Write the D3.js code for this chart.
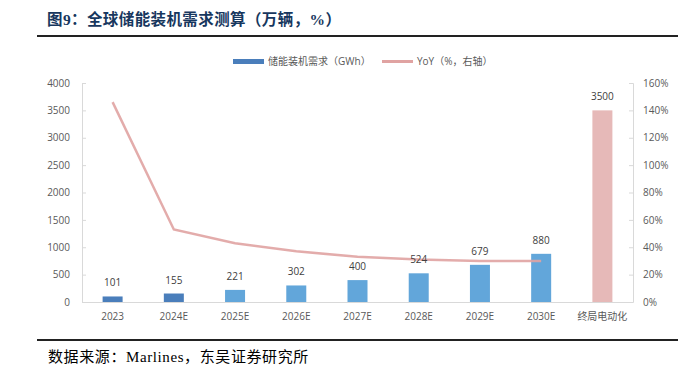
<!DOCTYPE html>
<html>
  <head>
    <meta charset="utf-8">
    <script src="https://d3js.org/d3.v7.min.js"></script>
    <style>
      body { margin: 0; background: #fff; }
      svg text { font-family: "Open Sans", "Noto Sans CJK SC", sans-serif; }
      .tick text { fill: #595959; font-size: 10px; }
      .label { fill: #404040; font-size: 10px; text-anchor: middle; }
      .title { font-family: "Liberation Serif", "Noto Sans CJK SC", serif; font-weight: bold; font-size: 15.5px; letter-spacing: 0.4px; fill: #17375e; }
      .source { font-family: "Liberation Serif", "Noto Sans CJK SC", serif; font-size: 15px; letter-spacing: 0.6px; fill: #000; }
    </style>
    <title>全球储能装机需求测算</title>
  </head>
  <body>
    <svg id="chart" width="696" height="370"></svg>
    <script>
      var categories = ["2023", "2024E", "2025E", "2026E", "2027E", "2028E", "2029E", "2030E", "终局电动化"];
      var demand = [101, 155, 221, 302, 400, 524, 679, 880, 3500];
      var yoy = [146, 53, 43, 37, 33, 31, 30, 30];
      var leftTicks = [0, 500, 1000, 1500, 2000, 2500, 3000, 3500, 4000];
      var rightTicks = [0, 20, 40, 60, 80, 100, 120, 140, 160];
      var barColors = ["#4a7ebb", "#4a7ebb", "#62a6da", "#62a6da", "#62a6da", "#62a6da", "#62a6da", "#62a6da", "#e6b9b8"];

      var svg = d3.select("#chart");
      var pLeft = 82, pRight = 633, pTop = 83, pBottom = 302;

      var x = d3.scaleBand().domain(categories).range([pLeft, pRight]);
      var y = d3.scaleLinear().domain([0, 4000]).range([pBottom, pTop]);
      var y2 = d3.scaleLinear().domain([0, 160]).range([pBottom, pTop]);

      // title and rules
      svg.append("text").attr("class", "title").attr("x", 47).attr("y", 25)
        .text("图9：全球储能装机需求测算（万辆，%）");
      svg.append("rect").attr("x", 37).attr("y", 35).attr("width", 641).attr("height", 2).attr("fill", "#222");
      svg.append("rect").attr("x", 37).attr("y", 339).attr("width", 641).attr("height", 2).attr("fill", "#222");
      svg.append("text").attr("class", "source").attr("x", 48).attr("y", 362)
        .text("数据来源：Marlines，东吴证券研究所");

      // axes
      var gl = svg.append("g").attr("transform", "translate(" + pLeft + ",0)")
        .call(d3.axisRight(y).tickValues(leftTicks).tickSize(4).tickFormat(d3.format("d")));
      gl.selectAll(".tick text").attr("x", -12).attr("text-anchor", "end");
      var gr = svg.append("g").attr("transform", "translate(" + pRight + ",0)")
        .call(d3.axisLeft(y2).tickValues(rightTicks).tickSize(4).tickFormat(function(d){ return d + "%"; }));
      gr.selectAll(".tick text").attr("x", 10).attr("text-anchor", "start");
      svg.selectAll(".domain, .tick line").attr("stroke", "#d9d9d9");
      svg.selectAll(".tick text").attr("font-family", null).attr("font-size", null);

      // x axis baseline and labels
      svg.append("line").attr("x1", pLeft).attr("x2", pRight).attr("y1", pBottom + 0.5).attr("y2", pBottom + 0.5).attr("stroke", "#d9d9d9");
      svg.selectAll(".xlab").data(categories).enter().append("text")
        .attr("class", "label").style("fill", "#595959")
        .attr("x", function(d){ return x(d) + x.bandwidth() / 2; })
        .attr("y", 320).text(function(d){ return d; });

      // bars
      var bw = 20;
      svg.selectAll(".bar").data(demand).enter().append("rect")
        .attr("x", function(d, i){ return x(categories[i]) + x.bandwidth() / 2 - bw / 2; })
        .attr("y", function(d){ return y(d); })
        .attr("width", bw)
        .attr("height", function(d){ return pBottom - y(d); })
        .attr("fill", function(d, i){ return barColors[i]; });

      // line
      var line = d3.line()
        .x(function(d, i){ return x(categories[i]) + x.bandwidth() / 2; })
        .y(function(d){ return y2(d); });
      svg.append("path").datum(yoy).attr("d", line)
        .attr("fill", "none").attr("stroke", "#e0a3a2").attr("stroke-width", 2.5).attr("opacity", 0.9);

      // bar labels
      svg.selectAll(".val").data(demand).enter().append("text")
        .attr("class", "label")
        .attr("x", function(d, i){ return x(categories[i]) + x.bandwidth() / 2; })
        .attr("y", function(d){ return Math.min(y(d) - 10, 287); })
        .text(function(d){ return d; });

      // legend
      svg.append("rect").attr("x", 233).attr("y", 59).attr("width", 31).attr("height", 5).attr("fill", "#4a7ebb");
      svg.append("text").attr("x", 268).attr("y", 65).attr("font-size", 10).attr("fill", "#595959").text("储能装机需求（GWh）");
      svg.append("line").attr("x1", 382).attr("x2", 413).attr("y1", 61.5).attr("y2", 61.5).attr("stroke", "#e0a3a2").attr("stroke-width", 3);
      svg.append("text").attr("x", 417).attr("y", 65).attr("font-size", 10).attr("fill", "#595959").text("YoY（%，右轴）");
    </script>
  </body>
</html>
